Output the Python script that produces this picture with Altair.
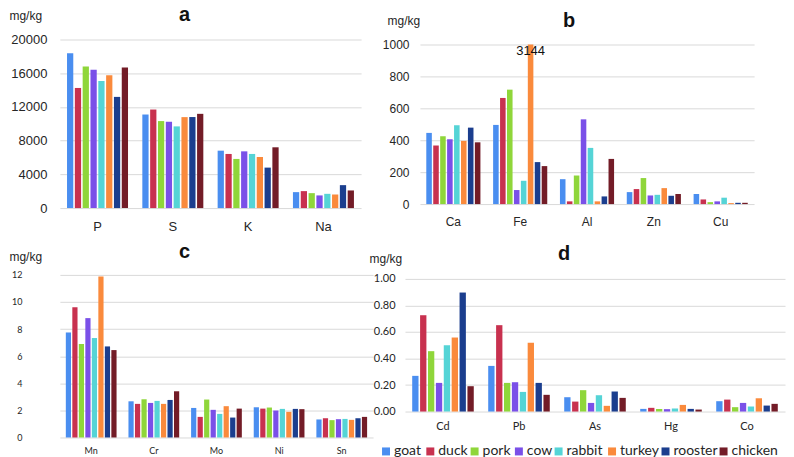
import altair as alt
import pandas as pd

animals = ["goat", "duck", "pork", "cow", "rabbit", "turkey", "rooster", "chicken"]
colors = ["#4a8ef0", "#c8314f", "#8fd63a", "#7a50e8", "#55d4d6", "#fa8a3c", "#1b3e8e", "#731c27"]

elements_a = ["P", "S", "K", "Na"]
a_P = [18380, 14250, 16810, 16420, 15080, 15750, 13190, 16690]
a_S = [11100, 11690, 10320, 10240, 9690, 10790, 10800, 11180]
a_K = [6810, 6420, 5830, 6730, 6420, 6060, 4800, 7210]
a_Na = [1890, 2010, 1770, 1500, 1690, 1610, 2720, 2090]

elements_b = ["Ca", "Fe", "Al", "Zn", "Cu"]
b_Ca = [446, 367, 425, 406, 494, 396, 479, 387]
b_Fe = [496, 665, 717, 88, 146, 3144, 263, 238]
b_Al = [156, 17, 179, 531, 352, 17, 48, 283]
b_Zn = [75, 94, 163, 54, 58, 100, 52, 63]
b_Cu = [63, 29, 12, 17, 40, 6, 8, 8]

elements_c = ["Mn", "Cr", "Mo", "Ni", "Sn"]
c_Mn = [7.75, 9.62, 6.90, 8.81, 7.34, 11.88, 6.72, 6.45]
c_Cr = [2.67, 2.48, 2.82, 2.55, 2.70, 2.48, 2.77, 3.41]
c_Mo = [2.18, 1.52, 2.80, 2.04, 1.74, 2.31, 1.47, 2.13]
c_Ni = [2.23, 2.13, 2.21, 1.99, 2.11, 1.89, 2.11, 2.09]
c_Sn = [1.33, 1.42, 1.28, 1.35, 1.37, 1.30, 1.42, 1.52]

elements_d = ["Cd", "Pb", "As", "Hg", "Co"]
d_Cd = [0.269, 0.726, 0.455, 0.216, 0.500, 0.558, 0.897, 0.191]
d_Pb = [0.344, 0.651, 0.216, 0.221, 0.148, 0.518, 0.216, 0.126]
d_As = [0.108, 0.075, 0.161, 0.065, 0.123, 0.043, 0.151, 0.103]
d_Hg = [0.020, 0.028, 0.020, 0.018, 0.023, 0.050, 0.020, 0.015]
d_Co = [0.078, 0.090, 0.033, 0.065, 0.038, 0.100, 0.045, 0.058]

ticks_a = [0, 4000, 8000, 12000, 16000, 20000]
ticks_b = [0, 200, 400, 600, 800, 1000]
ticks_c = [0, 2, 4, 6, 8, 10, 12]
ticks_d = [0, 0.2, 0.4, 0.6, 0.8, 1.0]


def long_df(elements, series):
    rows = []
    for el, vals in zip(elements, series):
        for an, v in zip(animals, vals):
            rows.append({"element": el, "animal": an, "value": v})
    return pd.DataFrame(rows)


TXT = "#262626"
color_scale = alt.Scale(domain=animals, range=colors)


def legend_layers(width, x0, yrow):
    ldf = pd.DataFrame({"animal": animals, "rank": list(range(len(animals)))})
    base = alt.Chart(ldf).transform_calculate(
        w="26 + 4.6*length(datum.animal)"
    ).transform_window(
        cum="sum(w)", sort=[alt.SortField("rank")]
    ).transform_calculate(
        start=f"datum.cum - datum.w + ({x0})"
    )
    xs = alt.Scale(domain=[0, width])
    sq = base.transform_calculate(cx="datum.start + 4").mark_square(size=64, opacity=1).encode(
        x=alt.X("cx:Q", scale=xs, axis=None),
        y=alt.value(yrow),
        color=alt.Color("animal:N", scale=color_scale, legend=None),
    )
    tx = base.transform_calculate(tx="datum.start + 12").mark_text(
        align="left", baseline="middle", font="Lato", fontSize=14, color=TXT
    ).encode(
        x=alt.X("tx:Q", scale=xs, axis=None),
        y=alt.value(yrow),
        text="animal:N",
    )
    return [sq, tx]


def panel(df, elements, w, h, ymax, cap, ticks, fmt, font, ysize, xsize, ypad, xpad,
          title, tdy, tdx, mgx, mgy, with_legend=False):
    x = alt.X("element:N", sort=elements, title=None,
              scale=alt.Scale(domain=elements, paddingInner=0.19, paddingOuter=0.095),
              axis=alt.Axis(labelAngle=0, domain=False, ticks=False, tickSize=0, grid=False,
                            labelFont=font, labelFontSize=xsize, labelPadding=xpad,
                            labelColor=TXT))
    xo = alt.XOffset("animal:N", scale=alt.Scale(domain=animals, paddingInner=0.2))
    y = alt.Y("plotted:Q", scale=alt.Scale(domain=[0, ymax], nice=False, zero=True),
              axis=alt.Axis(values=ticks, format=fmt, title="mg/kg", titleAngle=0,
                            titleAlign="left", titleBaseline="middle", titleX=mgx, titleY=mgy,
                            titleFont="Liberation Sans", titleFontSize=12,
                            titleFontWeight="normal", titleColor=TXT,
                            domain=False, ticks=False, tickSize=0, labelPadding=ypad,
                            labelFont=font, labelFontSize=ysize, labelColor=TXT,
                            gridColor="#d9d9d9", gridWidth=1))
    base = alt.Chart(df).transform_calculate(plotted=f"min(datum.value, {cap})")
    bars = base.mark_bar().encode(
        x=x, xOffset=xo, y=y,
        color=alt.Color("animal:N", scale=color_scale, legend=None),
    )
    layers = [bars]
    if cap < ymax:
        lab = base.transform_filter(f"datum.value > {cap}").mark_text(
            font="Liberation Sans", fontSize=13, color="#111111", baseline="middle", dy=7
        ).encode(x=x, xOffset=xo, y=y, text=alt.Text("value:Q", format="d"))
        layers.append(lab)
    if with_legend:
        layers += legend_layers(w, -23, h + 40)
    ch = alt.layer(*layers)
    if with_legend:
        ch = ch.resolve_scale(x="independent")
    return ch.properties(
        width=w, height=h,
        title=alt.TitleParams(title, font="Liberation Sans", fontSize=20, fontWeight="bold",
                              offset=0, dy=tdy, dx=tdx, baseline="alphabetic", anchor="middle",
                              color="#111111"),
    )


df_a = long_df(elements_a, [a_P, a_S, a_K, a_Na])
df_b = long_df(elements_b, [b_Ca, b_Fe, b_Al, b_Zn, b_Cu])
df_c = long_df(elements_c, [c_Mn, c_Cr, c_Mo, c_Ni, c_Sn])
df_d = long_df(elements_d, [d_Cd, d_Pb, d_As, d_Hg, d_Co])

pa = panel(df_a, elements_a, 302, 169, 20000, 20000, ticks_a, "d", "Liberation Sans", 13, 13, 13, 12,
           "a", 31, -26, -51, -24)
pb = panel(df_b, elements_b, 335, 165, 1031.25, 1000, ticks_b, "d", "Liberation Sans", 12, 12, 11, 12,
           "b", 32, -18, -33, -19)
pc = panel(df_c, elements_c, 314, 163, 12, 12, ticks_c, "d", "Lato", 9, 9, 38, 9,
           "c", 27, -32, -51, -18)
pd_ = panel(df_d, elements_d, 381, 137, 1.030, 1.030, ticks_d, ".2f", "Lato", 11, 11, 10, 9,
            "d", 27, -31, -36, -16, with_legend=True)

res = dict(x="independent", y="independent", xOffset="independent")
row1 = alt.hconcat(pa, pb, spacing=19).resolve_scale(**res)
row2 = alt.hconcat(pc, pd_, spacing=-6).resolve_scale(**res)

chart = alt.concat(row1, row2, columns=1, align="none", spacing=7).resolve_scale(**res).properties(
    padding={"left": 0, "top": -5, "right": 0, "bottom": 0}
).configure_view(stroke="transparent")

chart.save("out.html", embed_options={"renderer": "svg", "actions": False})
